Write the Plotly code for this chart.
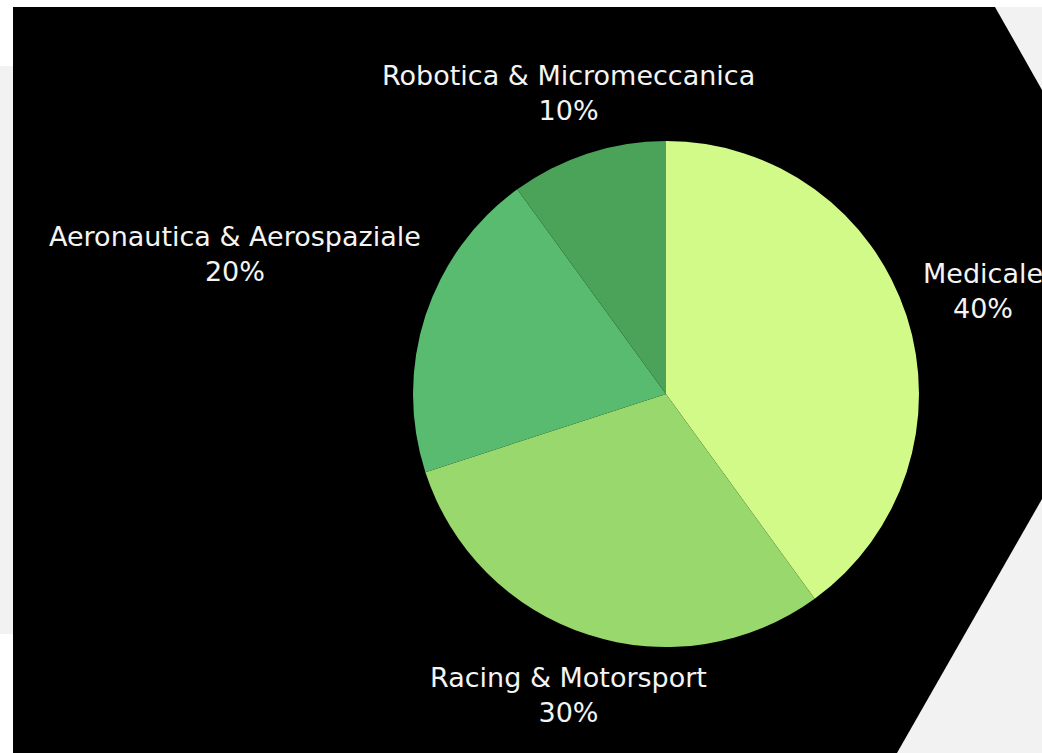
import math
import plotly.graph_objects as go

# ---- data ----
categories = ["Medicale", "Racing & Motorsport", "Aeronautica & Aerospaziale", "Robotica & Micromeccanica"]
shares = [40, 30, 20, 10]
slice_colors = ["#d2fa88", "#98d86c", "#58bb6f", "#4ba35a"]

# ---- layout constants (pixels) ----
W, H = 1042, 753
CX, CY, R = 666, 394, 253
FONT = "DejaVu Sans"
FS = 27
GAP = 12
LINE_H = 1.35 * FS

# approximate DejaVu Sans advance widths (em) used to size label boxes
ADV = {"a": .613, "b": .635, "c": .55, "d": .635, "e": .615, "f": .352, "g": .635,
       "h": .634, "i": .278, "l": .278, "m": .974, "n": .634, "o": .612, "p": .635,
       "r": .411, "s": .521, "t": .392, "u": .634, "z": .525, " ": .318, "&": .78,
       "R": .695, "M": .863, "A": .684}


def text_w(s):
    return sum(ADV.get(ch, .62) for ch in s) * FS


def px(x):
    return x / W


def py(y):
    return 1 - y / H


fig = go.Figure()
fig.add_trace(go.Pie(
    labels=categories,
    values=shares,
    sort=False,
    direction="clockwise",
    rotation=0,
    marker=dict(colors=slice_colors, line=dict(width=0)),
    textinfo="none",
    hoverinfo="label+percent",
    showlegend=False,
    domain=dict(x=[px(CX - R), px(CX + R)], y=[py(CY + R), py(CY - R)]),
))

# ---- labels placed outside each slice, along its mid angle ----
total = sum(shares)
cum = 0
annotations = []
for name, v in zip(categories, shares):
    mid = 2 * math.pi * (cum + v / 2) / total
    cum += v
    ux, uy = math.sin(mid), -math.cos(mid)
    w = text_w(name)
    h = 2 * LINE_H

    def dist(t):
        bx, by = CX + ux * t, CY + uy * t
        dx = max(abs(bx - CX) - w / 2, 0)
        dy = max(abs(by - CY) - h / 2, 0)
        return math.hypot(dx, dy)

    lo, hi = 0.0, 2000.0
    for _ in range(60):
        m = (lo + hi) / 2
        if dist(m) < R + GAP:
            lo = m
        else:
            hi = m
    bx, by = CX + ux * hi, CY + uy * hi
    pct = f"{round(100 * v / total)}%"
    annotations.append(dict(
        x=px(bx), y=py(by), xref="paper", yref="paper",
        xanchor="center", yanchor="middle", align="center",
        text=f"{name}<br>{pct}", showarrow=False,
        font=dict(family=FONT, size=FS, color="#f4f4f4"),
    ))

# ---- background shapes ----
shapes = [
    dict(type="rect", xref="paper", yref="paper", x0=px(0), x1=px(13), y0=py(634), y1=py(66),
         fillcolor="#f2f2f2", line=dict(width=0), layer="below"),
    dict(type="rect", xref="paper", yref="paper", x0=px(860), x1=px(W), y0=py(H), y1=py(7),
         fillcolor="#f2f2f2", line=dict(width=0), layer="below"),
]
poly = [(13, 7), (995, 7), (1042, 90), (1042, 499), (897, 753), (13, 753)]
path = "M " + " L ".join(f"{px(x):.5f},{py(y):.5f}" for x, y in poly) + " Z"
shapes.append(dict(type="path", xref="paper", yref="paper", path=path,
                   fillcolor="#000000", line=dict(width=0), layer="below"))

fig.update_layout(
    width=W, height=H,
    margin=dict(l=0, r=0, t=0, b=0),
    paper_bgcolor="#ffffff",
    plot_bgcolor="rgba(0,0,0,0)",
    shapes=shapes,
    annotations=annotations,
    font=dict(family=FONT),
)

fig.write_html(
    "out.html",
    config={"displayModeBar": False},
    post_script="document.body.style.margin='0px';document.body.style.overflow='hidden';",
)
